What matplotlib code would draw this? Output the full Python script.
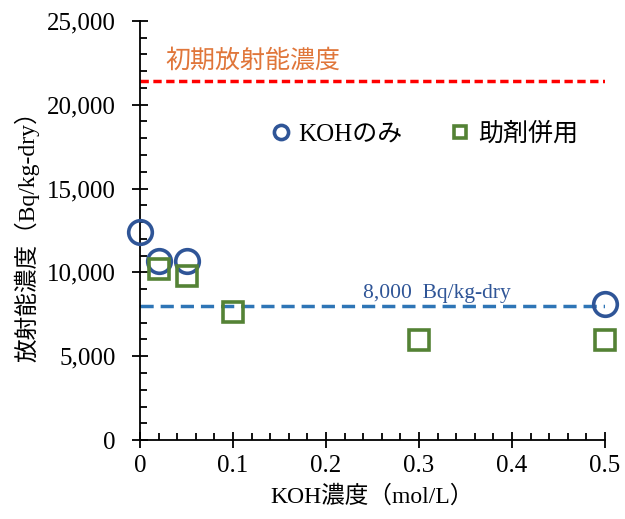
import numpy as np
import matplotlib
matplotlib.use("Agg")
import matplotlib.pyplot as plt
from matplotlib.ticker import MultipleLocator, FuncFormatter

plt.rcParams['font.family'] = ['Liberation Serif', 'Noto Sans CJK JP']

# データ
koh_x = [0, 0.02, 0.05, 0.5]
koh_y = [12400, 10650, 10700, 8100]
aid_x = [0.02, 0.05, 0.1, 0.3, 0.5]
aid_y = [10200, 9800, 7650, 5950, 5950]
initial_level = 21400
target_level = 8000

fig = plt.figure(figsize=(6.25, 5.19), dpi=100)
ax = fig.add_axes([0.224, 0.152, 0.744, 0.808])

# 基準線
ax.axhline(initial_level, color='#FF0000', linestyle=(0, (2.4, 1.3)), linewidth=2.5)
ax.axhline(target_level, color='#2E75B6', linestyle=(0, (3.8, 2.0)), linewidth=2.5)

ax.plot(koh_x, koh_y, 'o', markersize=17, markerfacecolor='none',
        markeredgecolor='#2F5597', markeredgewidth=2.6, clip_on=False, zorder=3,
        label='KOHのみ')
ax.plot(aid_x, aid_y, 's', markersize=14.5, markerfacecolor='none',
        markeredgecolor='#548235', markeredgewidth=2.6, clip_on=False, zorder=3,
        label='助剤併用')

ax.text(0.027, 22200, '初期放射能濃度', color='#E0763A', fontsize=18,
        family=['Noto Sans CJK JP'])
ax.text(0.319, 8450, '8,000  Bq/kg-dry', color='#2F5597', fontsize=15.5, ha='center')

ax.set_xlim(0, 0.5)
ax.set_ylim(0, 25000)
ax.xaxis.set_major_locator(MultipleLocator(0.1))
ax.xaxis.set_minor_locator(MultipleLocator(0.02))
ax.yaxis.set_major_locator(MultipleLocator(5000))
ax.yaxis.set_minor_locator(MultipleLocator(1000))
ax.xaxis.set_major_formatter(FuncFormatter(lambda v, p: '0' if v == 0 else f'{v:g}'))
ax.yaxis.set_major_formatter(FuncFormatter(lambda v, p: f'{int(v):,}'))

for s in ['top', 'right']:
    ax.spines[s].set_visible(False)
for s in ['left', 'bottom']:
    ax.spines[s].set_linewidth(1.3)

ax.tick_params(which='major', direction='inout', length=11, width=1.3, labelsize=18)
ax.tick_params(axis='y', which='major', pad=12)
ax.tick_params(axis='x', which='major', pad=5)
ax.tick_params(which='minor', direction='in', length=5, width=1.3)

ax.set_xlabel('KOH濃度（mol/L）', fontsize=17, labelpad=6)
ax.set_ylabel('放射能濃度（Bq/kg-dry）', fontsize=17, labelpad=5)

leg = ax.legend(loc='center', bbox_to_anchor=(0.612, 0.73), ncol=2, frameon=False,
                markerscale=0.6, handlelength=0.8, handletextpad=0.3, columnspacing=1.9,
                prop={'family': ['Liberation Serif', 'Noto Sans CJK JP'], 'size': 18})

fig.savefig('out.png', dpi=100)
